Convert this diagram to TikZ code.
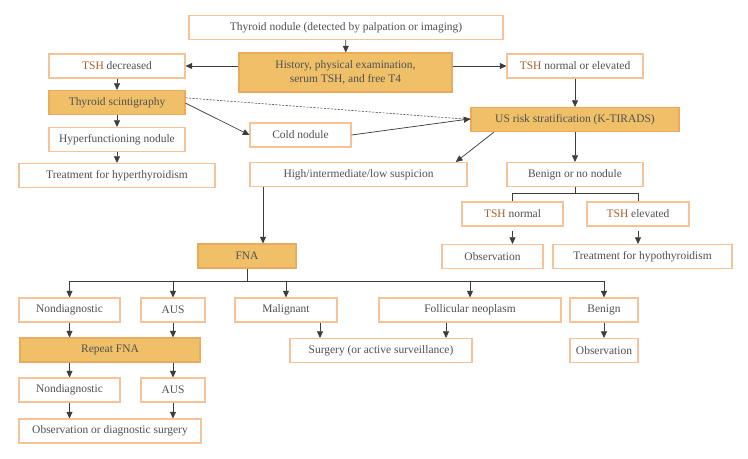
\documentclass[tikz,border=0pt]{standalone}
\usepackage{fontspec}
\setmainfont{Liberation Serif}
\usetikzlibrary{arrows.meta}
\definecolor{boxline}{HTML}{F7C296}
\definecolor{boxfill}{HTML}{F0C069}
\definecolor{fillline}{HTML}{ECAA5C}
\definecolor{txtgray}{HTML}{505050}
\definecolor{tshbrown}{HTML}{A4622C}
\definecolor{linegray}{HTML}{3C3C3C}
\newcommand{\tsh}{\textcolor{tshbrown}{TSH}}
\tikzset{
  box/.style={draw=boxline, line width=0.8pt, fill=white, inner sep=0pt,
    minimum height=18pt, text=txtgray, font=\fontsize{8.6}{10}\selectfont, align=center},
  keybox/.style={box, draw=fillline, fill=boxfill},
  arr/.style={draw=linegray, line width=0.55pt, -{Triangle[length=5pt,width=4.5pt]}},
  ln/.style={draw=linegray, line width=0.55pt}
}
\begin{document}
\begin{tikzpicture}[x=0.75pt,y=-0.75pt]
  \useasboundingbox (0,0) rectangle (748,458);
  % top part
  \node[box, minimum width=235.5pt] (nodule) at (346,27.5) {Thyroid nodule (detected by palpation or imaging)};
  \node[keybox, minimum width=159.75pt, minimum height=29.25pt] (hist) at (345.5,72.5) {History, physical examination,\\serum TSH, and free T4};
  \node[box, minimum width=102pt] (tshdec) at (117,66) {\tsh{} decreased};
  \node[keybox, minimum width=102pt] (scint) at (117,102.5) {Thyroid scintigraphy};
  \node[box, minimum width=102pt] (hyper) at (117,139.5) {Hyperfunctioning nodule};
  \node[box, minimum width=147pt] (hyperT) at (117,175.5) {Treatment for hyperthyroidism};
  \node[box, minimum width=75.75pt] (cold) at (300.5,135) {Cold nodule};
  \node[box, minimum width=162.75pt] (susp) at (358.5,174.5) {High/intermediate/low suspicion};
  \node[box, minimum width=102pt] (tshne) at (575,66) {\tsh{} normal or elevated};
  \node[keybox, minimum width=156pt] (us) at (575,119.5) {US risk stratification (K-TIRADS)};
  \node[box, minimum width=102pt] (benign) at (575,174.5) {Benign or no nodule};
  \node[box, minimum width=75.75pt] (tshn) at (512.5,214) {\tsh{} normal};
  \node[box, minimum width=76.5pt] (tshe) at (638,214) {\tsh{} elevated};
  \node[box, minimum width=75.75pt] (obsA) at (492.5,256.5) {Observation};
  \node[box, minimum width=134.25pt] (hypoT) at (642.5,256.5) {Treatment for hypothyroidism};
  % FNA part
  \node[keybox, minimum width=73.5pt] (fna) at (247,256) {FNA};
  \node[box, minimum width=75.75pt] (ndA) at (69.5,310) {Nondiagnostic};
  \node[box, minimum width=48pt] (ausA) at (173,310) {AUS};
  \node[box, minimum width=76.5pt] (mal) at (286,310) {Malignant};
  \node[box, minimum width=136.5pt] (foll) at (470,310) {Follicular neoplasm};
  \node[box, minimum width=51pt] (benB) at (604,310) {Benign};
  \node[keybox, minimum width=135pt] (rep) at (110,350) {Repeat FNA};
  \node[box, minimum width=136.5pt] (surg) at (381,350.5) {Surgery (or active surveillance)};
  \node[box, minimum width=51pt] (obsB) at (604,350.5) {Observation};
  \node[box, minimum width=75.75pt] (ndB) at (69.5,390) {Nondiagnostic};
  \node[box, minimum width=48pt] (ausB) at (173,390) {AUS};
  \node[box, minimum width=136.5pt] (obsdiag) at (110,431) {Observation or diagnostic surgery};

  \coordinate (tsplit) at (575,193);
  \coordinate (fsplit) at (247,281);

  \draw[arr] (nodule) -- (hist);
  \draw[arr] (hist.west |- tshdec) -- (tshdec);
  \draw[arr] (hist.east |- tshne) -- (tshne);
  \draw[arr] (tshdec) -- (scint);
  \draw[arr] (scint) -- (hyper);
  \draw[arr] (hyper) -- (hyperT);
  \draw[arr] ([yshift=-0.5pt]scint.east) -- (cold.west);
  \draw[linegray, line width=0.4pt, dash pattern=on 1.6pt off 1pt] ([yshift=3.5pt]scint.east) -- (us.west);
  \draw[arr] (cold.east) -- ([yshift=0.5pt]us.west);
  \draw[arr] (tshne) -- (us);
  \draw[arr] ([xshift=-60.75pt]us.south) -- ([xshift=73pt]susp.north);
  \draw[arr] (us) -- (benign);
  \draw[ln] (benign) -- (tsplit) -| (tshn.north);
  \draw[ln] (tsplit) -| (tshe.north);
  \draw[arr] (tshn.south |- obsA.north) ++(0,-13) -- (tshn.south |- obsA.north);
  \draw[arr] (tshe.south |- hypoT.north) ++(0,-13) -- (tshe.south |- hypoT.north);
  \draw[arr] (susp.south -| 263,0) -- (fna.north -| 263,0);
  \draw[ln] (fna) -- (fsplit);
  \foreach \n in {ndA,ausA,mal,foll,benB}
    \draw[arr] (fsplit -| \n.north) -- (\n.north);
  \draw[ln] (fsplit -| ndA.north) -- (fsplit -| benB.north);
  \draw[arr] (ndA) -- (ndA.south |- rep.north);
  \draw[arr] (ausA) -- (ausA.south |- rep.north);
  \draw[arr] (ndA.south |- rep.south) -- (ndB);
  \draw[arr] (ausA.south |- rep.south) -- (ausB);
  \draw[arr] (ndB) -- (ndB.south |- obsdiag.north);
  \draw[arr] (ausB) -- (ausB.south |- obsdiag.north);
  \draw[arr] (mal.south -| 320,0) -- (surg.north -| 320,0);
  \draw[arr] (foll.south -| 446,0) -- (surg.north -| 446,0);
  \draw[arr] (benB) -- (obsB);
\end{tikzpicture}
\end{document}
